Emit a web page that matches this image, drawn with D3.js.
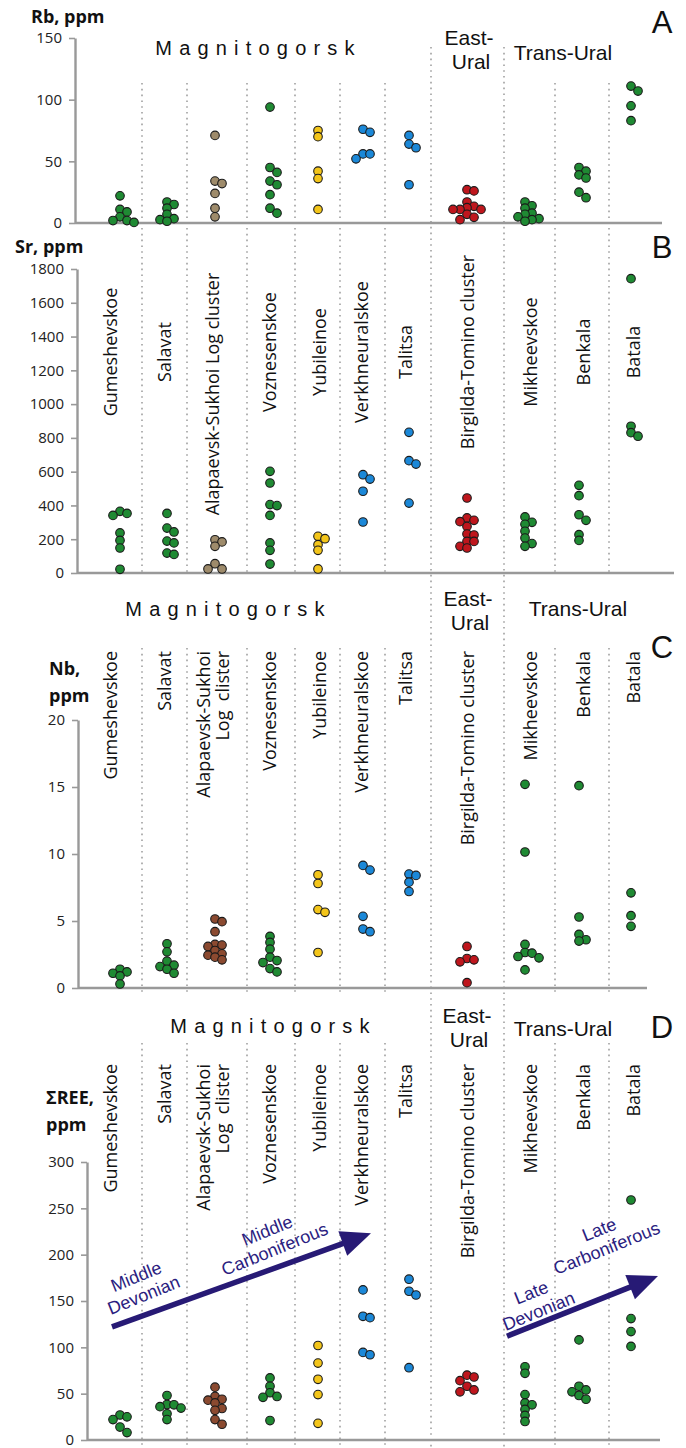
<!DOCTYPE html>
<html>
<head>
<meta charset="utf-8">
<script src="https://cdn.jsdelivr.net/npm/d3@7"></script>
<style>
  body { margin: 0; background: #fff; }
  svg text { font-family: "Open Sans", sans-serif; }
</style>
</head>
<body>
<svg id="fig" width="686" height="1448"></svg>
<script>
// ---- Deposits (columns, left to right) ----
const sites = ["Gumeshevskoe", "Salavat", "Alapaevsk-Sukhoi Log cluster", "Voznesenskoe",
  "Yubileinoe", "Verkhneuralskoe", "Talitsa", "Birgilda-Tomino cluster",
  "Mikheevskoe", "Benkala", "Batala"];

// ---- Rb, ppm ----
const rbValues = [
  [22, 11, 9, 5, 2, 2, 0.5],
  [17, 15, 12, 7, 3.5, 2.7, 1.4],
  [71, 34, 32, 24, 12, 5],
  [94, 45, 41, 34, 31, 23, 12, 8],
  [75, 70, 42, 36, 11],
  [76, 73.5, 56, 56, 52],
  [71, 64, 61, 31],
  [27, 26, 17, 13.5, 12.4, 11, 11, 11, 7, 4.6, 2.7],
  [17, 14, 12, 8, 7, 5, 3.5, 2.7, 1.4],
  [45, 42, 39, 36.5, 25, 20.5],
  [111, 107, 95, 83]
];

// ---- Sr, ppm ----
const srValues = [
  [365, 353, 341, 237, 193, 148, 22],
  [353, 266, 243, 189, 178, 118, 110],
  [197, 184, 158, 55, 24, 24],
  [602, 533, 405, 399, 341, 178, 134, 53],
  [217, 203, 168, 134, 24],
  [582, 556, 484, 302],
  [833, 665, 645, 414],
  [444, 326, 312, 304, 276, 231, 225, 187, 187, 158, 148],
  [332, 300, 288, 247, 207, 174, 158],
  [519, 458, 345, 312, 227, 193],
  [1743, 869, 831, 810]
];

// ---- Nb, ppm ----
const nbValues = [
  [1.4, 1.2, 1.1, 0.9, 0.3],
  [3.3, 2.7, 2.0, 1.7, 1.6, 1.4, 1.1],
  [5.15, 4.95, 4.2, 3.25, 3.2, 3.1, 2.8, 2.55, 2.45, 2.3, 2.1],
  [3.85, 3.4, 2.9, 2.3, 2.05, 1.9, 1.45, 1.2],
  [8.45, 7.8, 5.85, 5.65, 2.65],
  [9.15, 8.8, 5.35, 4.4, 4.2],
  [8.5, 8.4, 7.9, 7.2],
  [3.1, 2.2, 2.1, 1.95, 0.4],
  [15.2, 10.15, 3.25, 2.65, 2.6, 2.35, 2.25, 1.35],
  [15.1, 5.3, 4.0, 3.6, 3.5],
  [7.1, 5.4, 4.6]
];

// ---- ΣREE, ppm ----
const reeValues = [
  [27, 25, 22, 14, 8],
  [48, 38.3, 38, 36, 34.4, 28.3, 22],
  [57, 47, 44, 43, 40, 34, 32, 22, 17],
  [67, 58, 51, 47, 46, 21],
  [102, 83, 65.5, 49, 18],
  [162, 133.5, 132, 94.5, 92],
  [173.5, 160.5, 156.5, 78],
  [70, 68, 64, 58, 54, 52],
  [79, 72, 49, 40, 38, 33, 26.5, 20],
  [108, 58, 54, 52, 48, 44],
  [259, 131, 117, 101]
];

// ---- Tick labels ----
const rbTicks = [0, 50, 100, 150];
const srTicks = [0, 200, 400, 600, 800, 1000, 1200, 1400, 1600, 1800];
const nbTicks = [0, 5, 10, 15, 20];
const reeTicks = [0, 50, 100, 150, 200, 250, 300];

// ---- Region headers ----
const regionNames = ["Magnitogorsk", "East-Ural", "Trans-Ural"];

// ---- Age annotations (ΣREE panel), values on the ΣREE scale ----
const trendArrows = [
  { from: ["Gumeshevskoe", -8, 122], to: ["Verkhneuralskoe", 8, 223] },
  { from: ["Mikheevskoe", -18, 112], to: ["Batala", 27, 177] }
];
const trendLabels = [
  { lines: ["Middle", "Devonian"] },
  { lines: ["Middle", "Carboniferous"] },
  { lines: ["Late", "Devonian"] },
  { lines: ["Late", "Carboniferous"] }
];

// ---------------- drawing ----------------
const svg = d3.select("#fig");

const GREEN = "#1f8a33", TAN = "#9e8b6b", BROWN = "#8b4a30",
      YELLOW = "#f3c51a", BLUE = "#1b88d8", RED = "#bf161d";
const colorsAB = [GREEN, GREEN, TAN, GREEN, YELLOW, BLUE, BLUE, RED, GREEN, GREEN, GREEN];
const colorsCD = [GREEN, GREEN, BROWN, GREEN, YELLOW, BLUE, BLUE, RED, GREEN, GREEN, GREEN];

// column centres and dotted column separators
const x = d3.scaleOrdinal().domain(sites).range([120, 167, 215, 270, 318, 363, 409, 467, 525, 579, 631]);
const labelX = d3.scaleOrdinal().domain(sites).range([111, 165, 213, 270, 320, 362, 406, 468, 531, 584, 634]);
const separators = [142, 187, 247, 295, 340, 385, 431, 504, 555, 609];
const regionSeparators = [431, 504];

const AXIS = "#999";
const DOT_R = 4.3;
const NAME_SIZE = 18;

// dotted separators
function drawSeparators(y0, y1) {
  svg.append("g").selectAll("line")
    .data(separators.filter(s => !regionSeparators.includes(s)))
    .join("line")
    .attr("x1", d => d).attr("x2", d => d)
    .attr("y1", y0).attr("y2", y1)
    .attr("stroke", "#a0a0a0").attr("stroke-width", 1.6)
    .attr("stroke-dasharray", "1.6,4.2");
}
svg.append("g").selectAll("line")
  .data(regionSeparators).join("line")
  .attr("x1", d => d).attr("x2", d => d)
  .attr("y1", 47).attr("y2", 1448)
  .attr("stroke", "#a0a0a0").attr("stroke-width", 1.6)
  .attr("stroke-dasharray", "1.6,4.2");
drawSeparators(83, 573);
drawSeparators(648, 992);
drawSeparators(1043, 1448);

// beeswarm-like offsets: stack in a column, side-step when points collide
function dodge(values, y) {
  const pts = values.map(v => ({ v, py: y(v), off: 0 })).sort((a, b) => a.py - b.py);
  const placed = [];
  const step = 7, minD = 5.6;
  for (const p of pts) {
    for (let k = 0; k < 12; k++) {
      const off = k === 0 ? 0 : (k % 2 ? 1 : -1) * Math.ceil(k / 2) * step;
      if (placed.every(q => Math.hypot(q.off - off, q.py - p.py) >= minD)) { p.off = off; break; }
    }
    placed.push(p);
  }
  return pts;
}

function panel(cfg) {
  const y = d3.scaleLinear().domain(cfg.domain).range([cfg.y0, cfg.y1]);
  const g = svg.append("g");

  // axis
  const ax = d3.axisLeft(y).tickValues(cfg.ticks).tickFormat(d3.format("d"))
    .tickSize(6).tickSizeOuter(0).tickPadding(7);
  const axG = g.append("g").attr("transform", `translate(${cfg.ax},0)`).call(ax);
  axG.select(".domain").attr("stroke", AXIS).attr("stroke-width", 2.4);
  axG.selectAll(".tick line").attr("stroke", AXIS).attr("stroke-width", 1.6);
  axG.selectAll(".tick text").attr("fill", "#222").style("font-size", "15px")
    .style("font-family", "'Open Sans', sans-serif");
  // baseline
  g.append("line").attr("x1", cfg.ax).attr("x2", cfg.axEnd)
    .attr("y1", y(0)).attr("y2", y(0))
    .attr("stroke", AXIS).attr("stroke-width", 2.4);

  // axis title
  const t = g.append("text").attr("font-weight", 700).attr("font-size", 18).attr("fill", "#111");
  cfg.title.forEach((s, i) => {
    t.append("tspan").attr("x", cfg.titlePos[0]).attr("y", cfg.titlePos[1] + i * 27).text(s);
  });

  // points
  cfg.values.forEach((vals, i) => {
    const pts = dodge(vals, y);
    g.append("g").selectAll("circle").data(pts).join("circle")
      .attr("cx", d => x(sites[i]) + d.off)
      .attr("cy", d => d.py)
      .attr("r", DOT_R)
      .attr("fill", cfg.colors[i])
      .attr("stroke", "#1a1a1a").attr("stroke-width", 1.1);
  });
  return y;
}

panel({ domain: [0, 150], y0: 223, y1: 38, ax: 75, axEnd: 662, ticks: rbTicks,
  title: ["Rb, ppm"], titlePos: [31, 23], values: rbValues, colors: colorsAB });
panel({ domain: [0, 1800], y0: 573, y1: 269, ax: 77, axEnd: 674, ticks: srTicks,
  title: ["Sr, ppm"], titlePos: [15, 253], values: srValues, colors: colorsAB });
panel({ domain: [0, 20], y0: 988, y1: 720, ax: 78, axEnd: 647, ticks: nbTicks,
  title: ["Nb,", "ppm"], titlePos: [49, 675], values: nbValues, colors: colorsCD });
const yRee = panel({ domain: [0, 300], y0: 1440, y1: 1162, ax: 87, axEnd: 660, ticks: reeTicks,
  title: ["ΣREE,", "ppm"], titlePos: [46, 1104], values: reeValues, colors: colorsCD });

// region headers and panel letters
function headers(cfg) {
  const g = svg.append("g").attr("fill", "#111");
  const font = "'Liberation Sans', Arial, sans-serif";
  g.append("text").attr("x", cfg.mag[0] + 3.5).attr("y", cfg.mag[1])
    .attr("text-anchor", "middle").attr("dominant-baseline", "central")
    .attr("font-size", 20).attr("letter-spacing", 7.2)
    .style("font-family", font)
    .text(regionNames[0]);
  const [ea, eb] = regionNames[1].split("-");
  g.append("text").attr("x", cfg.east[0]).attr("y", cfg.east[1])
    .attr("text-anchor", "middle").attr("dominant-baseline", "central").attr("font-size", 21)
    .style("font-family", font).text(ea + "-");
  g.append("text").attr("x", cfg.east[0] + 2).attr("y", cfg.east[1] + 24)
    .attr("text-anchor", "middle").attr("dominant-baseline", "central").attr("font-size", 21)
    .style("font-family", font).text(eb);
  g.append("text").attr("x", cfg.trans[0]).attr("y", cfg.trans[1])
    .attr("text-anchor", "middle").attr("dominant-baseline", "central").attr("font-size", 21)
    .style("font-family", font).text(regionNames[2]);
}
headers({ mag: [255, 48], east: [469, 37], trans: [563, 52] });
headers({ mag: [225, 609], east: [468, 598], trans: [578, 608] });
headers({ mag: [270, 1026], east: [467, 1015], trans: [563, 1028] });

const letters = [["A", 22], ["B", 247], ["C", 647], ["D", 1027]];
svg.append("g").selectAll("text").data(letters).join("text")
  .attr("x", 662).attr("y", d => d[1])
  .attr("text-anchor", "middle").attr("dominant-baseline", "central")
  .attr("font-size", 31).attr("fill", "#111")
  .style("font-family", "'Liberation Sans', Arial, sans-serif")
  .text(d => d[0]);

// rotated deposit names
const siteLines = d => d === "Alapaevsk-Sukhoi Log cluster" ? ["Alapaevsk-Sukhoi", "Log  clister"] : [d];

// panel B: centred names
svg.append("g").selectAll("text").data(sites).join("text")
  .attr("transform", d => `translate(${labelX(d)},${d.startsWith("Alapaevsk") ? 394 : 352}) rotate(-90)`)
  .attr("text-anchor", "middle").attr("dy", "0.35em")
  .attr("font-size", NAME_SIZE).attr("fill", "#111")
  .text(d => d);

// panels C and D: names hanging from a common top line
function topLabels(yTop) {
  const g = svg.append("g");
  sites.forEach(s => {
    const lines = siteLines(s);
    lines.forEach((ln, j) => {
      const dx = lines.length > 1 ? (j === 0 ? -9 : 10) : 0;
      g.append("text")
        .attr("transform", `translate(${labelX(s) + dx},${yTop}) rotate(-90)`)
        .attr("text-anchor", "end").attr("dy", "0.35em")
        .attr("font-size", NAME_SIZE).attr("fill", "#111")
        .attr("xml:space", "preserve")
        .text(ln);
    });
  });
}
topLabels(651);
topLabels(1064);

// age trend arrows
const ARROW = "#271a75";
trendArrows.forEach(a => {
  const x0 = x(a.from[0]) + a.from[1], y0 = yRee(a.from[2]);
  const x1 = x(a.to[0]) + a.to[1], y1 = yRee(a.to[2]);
  const ang = Math.atan2(y1 - y0, x1 - x0);
  const L = 30, Hw = 13;
  const bx = x1 - L * Math.cos(ang), by = y1 - L * Math.sin(ang);
  svg.append("line").attr("x1", x0).attr("y1", y0).attr("x2", bx + 2 * Math.cos(ang)).attr("y2", by + 2 * Math.sin(ang))
    .attr("stroke", ARROW).attr("stroke-width", 5.5);
  const nx = -Math.sin(ang), ny = Math.cos(ang);
  svg.append("path")
    .attr("d", `M${x1},${y1}L${bx + nx * Hw},${by + ny * Hw}L${bx - nx * Hw},${by - ny * Hw}Z`)
    .attr("fill", ARROW);
});

const labelAnchors = [[140, 1286], [271, 1240], [535, 1302], [603, 1239]];
trendLabels.forEach((t, i) => {
  const [cx, cy] = labelAnchors[i];
  const g = svg.append("g").attr("transform", `translate(${cx},${cy}) rotate(-22)`);
  t.lines.forEach((ln, j) => {
    g.append("text").attr("x", 0).attr("y", (j - 0.5) * 20)
      .attr("text-anchor", "middle").attr("dominant-baseline", "central")
      .attr("font-size", 18).attr("fill", "#2b1d80")
      .style("font-family", "'Liberation Sans', Arial, sans-serif")
      .text(ln);
  });
});
</script>
</body>
</html>
